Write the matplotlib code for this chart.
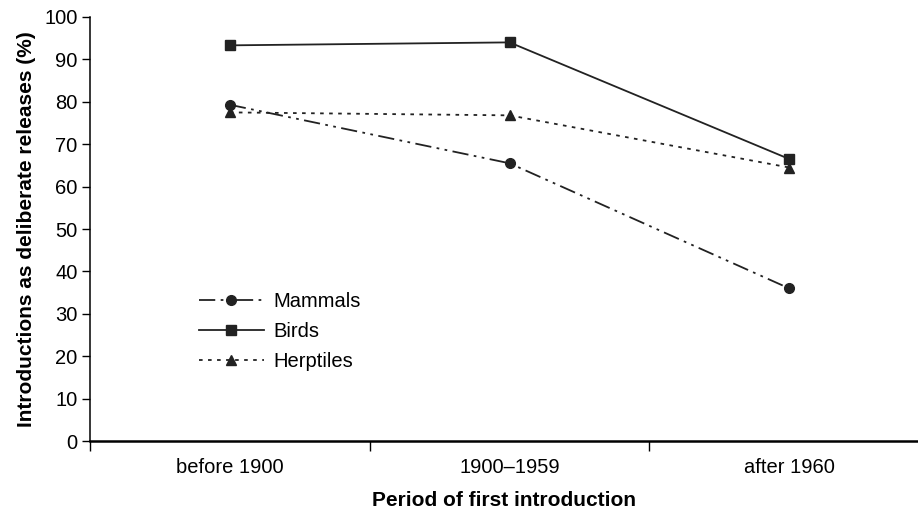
import matplotlib.pyplot as plt
import numpy as np

plt.rcParams['font.family'] = ['Liberation Sans', 'DejaVu Sans']

periods = ['before 1900', '1900\u20131959', 'after 1960']
mammals = [79.3, 65.5, 36.0]
birds = [93.3, 94.0, 66.5]
herptiles = [77.5, 76.8, 64.5]

fig, ax = plt.subplots(figsize=(9.18, 5.13), dpi=100)
fig.subplots_adjust(left=0.098, right=1.0, top=0.967, bottom=0.14)

x = np.arange(len(periods))
ax.plot(x, mammals, color='#222222', lw=1.3, ls=(0, (9, 3, 1.5, 3, 1.5, 3)),
        marker='o', ms=7, label='Mammals')
ax.plot(x, birds, color='#222222', lw=1.3, ls='-', marker='s', ms=7, label='Birds')
ax.plot(x, herptiles, color='#222222', lw=1.3, ls=(0, (2, 3)), marker='^', ms=7,
        label='Herptiles')

ax.set_xlim(-0.5, 2.46)
ax.set_ylim(0, 100)
ax.set_yticks(range(0, 101, 10))
ax.set_xticks(x)
ax.set_xticklabels(periods)
ax.set_xticks([-0.5, 0.5, 1.5], minor=True)
ax.tick_params(axis='x', which='major', length=0, pad=12, labelsize=14.5)
ax.tick_params(axis='x', which='minor', length=7, width=1, direction='out')
ax.tick_params(axis='y', length=6, width=1, labelsize=14.5, pad=3)

for side in ['top', 'right']:
    ax.spines[side].set_visible(False)
ax.spines['left'].set_linewidth(1.1)
ax.spines['bottom'].set_linewidth(1.8)

ax.set_ylabel('Introductions as deliberate releases (%)', fontsize=15,
              fontweight='bold', labelpad=6)
ax.set_xlabel('Period of first introduction', fontsize=15, fontweight='bold',
              labelpad=10)

ax.legend(loc='lower left', bbox_to_anchor=(0.11, 0.122), frameon=False,
          fontsize=14.5, handlelength=3.2, handletextpad=0.5, labelspacing=0.55)

plt.savefig('out.png')
